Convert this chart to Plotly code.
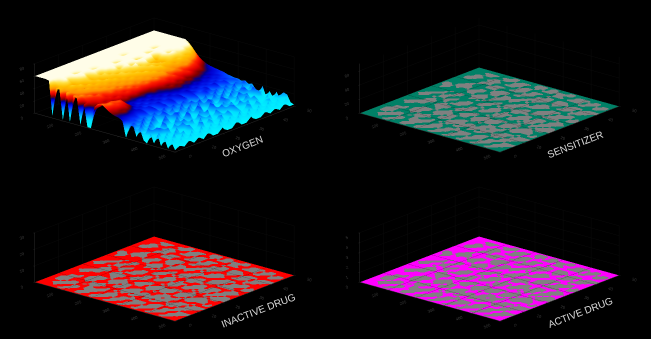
import plotly.graph_objects as go

# Oxygen heights: one row per x step (12.5), one column per y step (2)
x_oxy = [12.5 * i for i in range(41)]
y_oxy = [2 * j for j in range(26)]
oxygen = [
[60,60,60,60,60,60,60,60,60,60,60,60,60,60,60,60,60,60,60,60,60,60,60,60,60,60],
[60,60,60,60,60,60,60,60,60,60,60,60,60,60,60,60,60,60,60,60,60,60,60,60,60,60],
[60,60,60,60,60,60,60,60,60,60,60,60,60,60,60,60,60,60,60,60,60,60,60,60,60,60],
[60,60,60,60,60,60,60,60,60,60,60,60,60,60,60,60,60,60,60,60,60,60,60,60,60,60],
[59,60,60,60,60,60,60,60,60,60,60,60,60,60,60,60,60,60,60,60,60,60,60,60,60,60],
[3,54,60,60,60,52,60,60,60,60,60,60,60,60,60,54,60,60,60,60,60,60,60,60,60,60],
[49,50,60,52,60,60,60,60,54,60,60,60,60,60,60,60,60,60,60,60,60,60,60,60,60,60],
[49,48,50,48,55,60,52,60,60,60,60,60,50,60,60,60,60,60,60,60,52,60,60,60,60,60],
[1,47,52,49,50,53,49,56,50,60,60,60,60,60,60,60,60,60,50,60,60,60,60,60,60,60],
[48,46,46,52,47,51,50,50,55,50,60,52,60,60,60,46,60,60,60,60,60,60,60,60,60,60],
[1,44,48,46,51,47,52,48,51,53,49,56,60,52,60,60,60,60,47,60,60,60,60,60,60,56],
[46,43,45,49,46,50,48,52,49,50,54,50,53,60,52,60,50,46,51,60,54,60,60,60,60,50],
[42,45,42,44,48,45,49,46,51,48,52,52,49,52,54,51,53,50,48,55,60,56,60,54,54,43],
[1,41,44,40,45,47,44,48,45,50,47,50,52,48,51,54,49,52,50,52,50,54,50,52,46,37],
[36,38,40,43,41,44,46,43,48,45,50,47,49,52,48,50,52,48,50,47,52,49,50,46,40,33],
[1,34,38,41,38,43,41,45,42,47,44,48,46,48,50,46,49,47,45,49,46,48,43,40,35,30],
[1,31,37,35,39,36,41,39,44,41,45,43,47,44,46,48,43,46,44,42,46,42,40,35,31,28],
[37,33,35,37,35,39,36,41,38,42,40,44,41,45,42,44,42,40,43,40,38,38,36,32,29,27],
[43,41,38,39,36,33,36,32,36,33,34,34,38,38,41,38,42,38,37,40,36,33,33,30,28,26],
[44,42,43,41,40,31,28,30,27,31,27,33,31,35,33,38,34,37,33,34,33,32,29,28,27,25],
[40,44,41,43,38,28,29,25,29,26,29,28,30,31,35,32,35,31,34,30,31,28,29,27,25,24],
[36,37,41,38,36,30,26,28,24,29,26,29,26,30,30,33,29,32,28,31,27,29,26,27,24,22],
[33,35,33,36,31,26,28,23,27,25,28,24,29,26,29,27,30,26,29,26,28,25,27,24,23,21],
[31,31,34,30,28,28,24,27,22,28,23,27,25,28,24,29,25,28,24,27,24,27,23,25,22,20],
[30,28,28,27,25,27,22,27,21,26,22,27,23,28,22,27,26,22,27,23,28,22,26,21,23,20],
[26,26,24,25,20,25,18,26,18,27,19,26,17,27,20,26,18,25,27,19,26,18,25,17,22,18],
[1,21,24,18,23,13,24,15,26,14,25,15,25,19,12,24,14,26,17,24,13,24,15,23,19,20],
[21,24,15,25,9,24,12,25,9,24,10,25,8,24,18,10,24,9,25,8,24,11,25,10,24,16],
[24,11,25,6,24,17,7,24,16,7,24,13,23,7,25,14,6,24,13,24,6,23,8,22,9,18],
[7,24,9,23,12,5,24,9,23,21,6,24,5,24,8,24,20,5,24,7,23,15,22,5,21,11],
[21,5,22,15,5,24,19,5,24,6,22,9,24,16,5,23,7,24,5,24,10,5,24,14,18,6],
[5,22,10,4,23,8,4,23,7,24,14,4,23,5,24,11,4,23,18,4,24,17,5,24,5,19],
[1,18,21,5,21,4,21,16,4,23,4,21,16,4,23,5,21,14,4,22,7,21,4,20,15,4],
[18,4,22,17,3,20,6,22,14,4,21,5,22,3,18,22,4,20,9,3,21,14,4,18,4,14],
[4,19,6,21,4,16,21,3,20,4,19,14,3,21,4,17,20,3,21,14,3,20,9,3,15,5],
[20,3,17,3,20,4,18,13,3,21,3,20,4,19,12,3,21,12,3,20,4,16,3,17,4,16],
[3,17,3,19,12,3,20,3,19,4,18,3,17,3,20,4,18,3,19,3,18,3,14,3,16,4],
[16,3,19,3,18,4,15,3,20,3,17,3,20,4,17,3,15,3,19,4,16,3,17,4,15,18],
[2,15,3,17,3,17,3,18,3,16,3,18,3,16,3,18,3,17,3,16,3,16,3,14,4,16],
[14,3,15,3,16,3,16,3,15,3,16,3,15,3,16,3,15,3,15,3,14,3,13,3,14,5],
[3,7,3,10,3,9,3,11,3,3,10,3,3,11,3,3,10,3,3,9,3,8,3,10,3,3],
]

# Hand-read pattern of the three flat panels (# = grey, . = coloured)
x_flat = [12.5 * i for i in range(41)]
y_flat = [1.25 * j for j in range(41)]
mask_rows = [
".........................................",
"...................#.......##............",
".....###.....#....###....####....##......",
"...#.#####..###....###....##.....####....",
"..###.####...###.....##.....##....###.#..",
"...###...##...####.#..##...####....#.##..",
".#..###.......#####.##..#...####.....##..",
".##..##..###....##..###.....##..##.#..#..",
"..###...#####......#..###..#.....####....",
"...##.#..####..##.###..##.###....####.#..",
".......##..##.####..##....####.##..#.##..",
".##.#####....####.#......#..##.###...###.",
".#####.###.##..##.###..####....###.#..##.",
"..####..#.####....####..####.##..#.###...",
"....###....####.#..###.#.##.####...####..",
".##..###.##.##.###......#...####.#..###..",
".###.....####...####.##..###..##.###..#..",
"..####.#..###.#..###.###..####...####....",
"...####.##...###....#.###..###.#..###.##.",
".#..##.####..####.##....##..#..###...###.",
".###....####...##.####.#...###..####..##.",
"..####.#.###.##....####.##..###..###.#...",
"...###.###..####.#..##.####...##...#.###.",
".#...##.###..####.##....####.#.###...###.",
".###.#...##.#.##.#####.#..###.####.#..#..",
"..####.###...###..###.###..#...####.###..",
"...###..####.####...#.####.###..###.###..",
".#..##.#.####.###.##...###.####.....#.##.",
".###...###.##...#.####.#....###.###...##.",
"..####..####.###...####.###..#.####.#....",
"...####..###.####.#.###.####....###.###..",
".#..###.#..##.####.##....####.#..#..###..",
".###...###...#.##.#####.#.###.###...###..",
"..####.####.###....####.##..#.####.#..#..",
"...###..###.####.##..##.####...###.###...",
".#...###..#..####.###...####.##..#..###..",
".###..####.#.###.#.####.#.###.###....##..",
"..####.####..##.###.####...##.####.##....",
"...###..###.#...####.###.##....###.###...",
"....##...##.##...###..#..###....##..##...",
".....#....#......##.......#......#.......",
]
mask = [[1 if c == "#" else 0 for c in (row + "." * 41)[:41]] for row in mask_rows]
flat = [[0] * 41 for _ in range(41)]

titles = ["OXYGEN", "SENSITIZER", "INACTIVE DRUG", "ACTIVE DRUG"]
z_ranges = [[0, 80], [0, 70], [0, 30], [0, 5]]
z_ticks = [[0, 20, 40, 60, 80], [0, 20, 40, 60], [0, 10, 20, 30], [0, 1, 2, 3, 4, 5]]
x_ticks = [0, 100, 200, 300, 400, 500]
y_ticks = [0, 10, 20, 30, 40, 50]
flat_colors = {"scene2": "#008066", "scene3": "#ff0000", "scene4": "#ff00ff"}
oxygen_scale = [
    [0.00, "#00ffff"], [0.20, "#00e0ff"], [0.30, "#0090ff"], [0.40, "#0030ff"], [0.47, "#0000d0"],
    [0.50, "#00008c"], [0.55, "#7a0000"], [0.62, "#e00000"], [0.68, "#ff2000"],
    [0.75, "#ff9000"], [0.83, "#ffc000"], [0.90, "#ffe040"], [0.97, "#fffbd0"],
    [1.00, "#fffde8"],
]
flat_light = dict(ambient=1, diffuse=0, specular=0, roughness=1, fresnel=0)


def transpose(rows):
    return [list(c) for c in zip(*rows)]


fig = go.Figure()
fig.add_trace(go.Surface(x=x_oxy, y=y_oxy, z=transpose(oxygen), scene="scene", cmin=0, cmax=60,
                         colorscale=oxygen_scale, showscale=False, lighting=flat_light,
                         hoverinfo="skip"))
for scene, color in flat_colors.items():
    fig.add_trace(go.Surface(x=x_flat, y=y_flat, z=flat, surfacecolor=transpose(mask), scene=scene,
                             cmin=0, cmax=1, showscale=False, lighting=flat_light,
                             colorscale=[[0, color], [0.5, color], [0.5, "#808080"], [1, "#808080"]],
                             hoverinfo="skip"))


def axis(vals, rng):
    return dict(range=rng, tickvals=vals, ticktext=[str(v) for v in vals], title="",
                showbackground=False, showgrid=True, gridcolor="#0a0a0a", gridwidth=1,
                zeroline=False, showline=True, linecolor="#2a2a2a", linewidth=1,
                ticks="outside", ticklen=2, tickcolor="#2a2a2a", showspikes=False,
                tickfont=dict(family="Liberation Sans", size=7, color="#3a3a3a"))


W, H = 651, 339
panels = [("scene", 2.5, 5), ("scene2", 327.5, 5), ("scene3", 2.5, 174), ("scene4", 327.5, 174)]
layout = dict(width=W, height=H, margin=dict(l=0, r=0, t=0, b=0), autosize=False,
              paper_bgcolor="#000000", plot_bgcolor="#000000", showlegend=False)
for i, (name, left, top) in enumerate(panels):
    layout[name] = dict(
        domain=dict(x=[left / W, (left + 323) / W], y=[1 - (top + 160) / H, 1 - top / H]),
        bgcolor="#000000",
        xaxis=axis(x_ticks, [0, 500]), yaxis=axis(y_ticks, [0, 50]),
        zaxis=axis(z_ticks[i], z_ranges[i]),
        aspectmode="manual", aspectratio=dict(x=2.3, y=2.3, z=0.655),
        camera=dict(projection=dict(type="orthographic"),
                    up=dict(x=0, y=0, z=1), center=dict(x=0, y=0, z=0),
                    eye=dict(x=3.06, y=-3.6, z=1.63)),
    )
fig.update_layout(**layout)

centers = [(242, 146), (575, 145), (258, 310), (580, 312)]
for text, (cx, cy) in zip(titles, centers):
    fig.add_annotation(x=cx / W, y=1 - cy / H, xref="paper", yref="paper", text=text,
                       showarrow=False, textangle=-21, xanchor="center", yanchor="middle",
                       font=dict(family="Liberation Sans", size=10, color="#d8d8d8"))

fig.write_html("out.html", config=dict(displayModeBar=False),
               post_script="document.documentElement.style.background='#000';"
                           "document.body.style.background='#000';document.body.style.margin='0';")
